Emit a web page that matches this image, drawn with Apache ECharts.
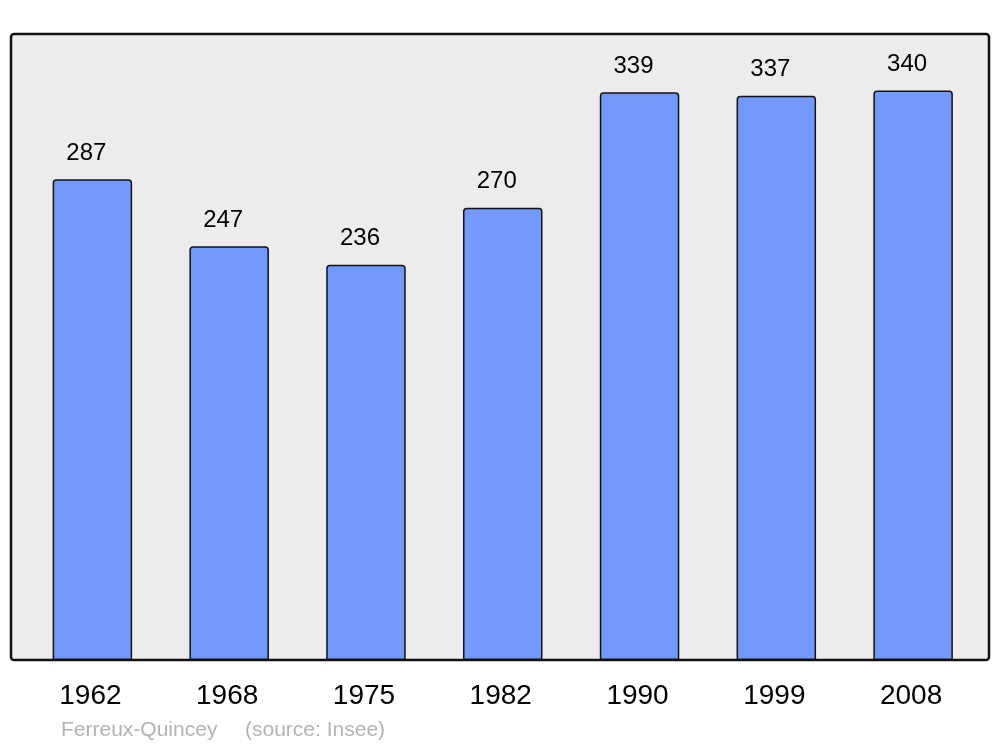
<!DOCTYPE html>
<html><head><meta charset="utf-8">
<script src="https://cdn.jsdelivr.net/npm/echarts@6/dist/echarts.min.js"></script>
<style>html,body{margin:0;padding:0;background:#fff}#c{width:1000px;height:747px}</style>
</head><body><div id="c"></div>
<script>
const years = ['1962','1968','1975','1982','1990','1999','2008'];
const population = [287,247,236,270,339,337,340];
const commune = 'Ferreux-Quincey';
const source = '(source: Insee)';

const chart = echarts.init(document.getElementById('c'), null, {renderer:'canvas'});
chart.setOption({
  animation:false,
  backgroundColor:'#ffffff',
  graphic:[
    {type:'rect', z:-10, shape:{x:11,y:34,width:978,height:626,r:3},
     style:{fill:'#ececec', stroke:'#111', lineWidth:2.5}},
    {type:'text', left:61, top:720, style:{text:commune, fill:'#b3b3b3', font:'21px "Liberation Sans", Arial, sans-serif'}},
    {type:'text', left:245, top:720, style:{text:source, fill:'#b3b3b3', font:'21px "Liberation Sans", Arial, sans-serif'}}
  ],
  grid:{left:24, top:34, width:957.5, height:626, containLabel:false},
  xAxis:{type:'category', data:years,
    axisLine:{show:false}, axisTick:{show:false},
    axisLabel:{color:'#000', fontSize:28, fontFamily:'"Liberation Sans", Arial, sans-serif', margin:22, padding:[0,4,0,0]}},
  yAxis:{type:'value', min:0, max:373.8, show:false, splitLine:{show:false}},
  series:[{type:'bar', data:population, barWidth:79.5,
    itemStyle:{color:'#7399ff', borderColor:'#111', borderWidth:1.5, borderRadius:[3,3,0,0]},
    label:{show:true, position:'top', distance:14, offset:[-6,0], color:'#000', fontSize:24,
      fontFamily:'"Liberation Sans", Arial, sans-serif'}}]
});
</script></body></html>
